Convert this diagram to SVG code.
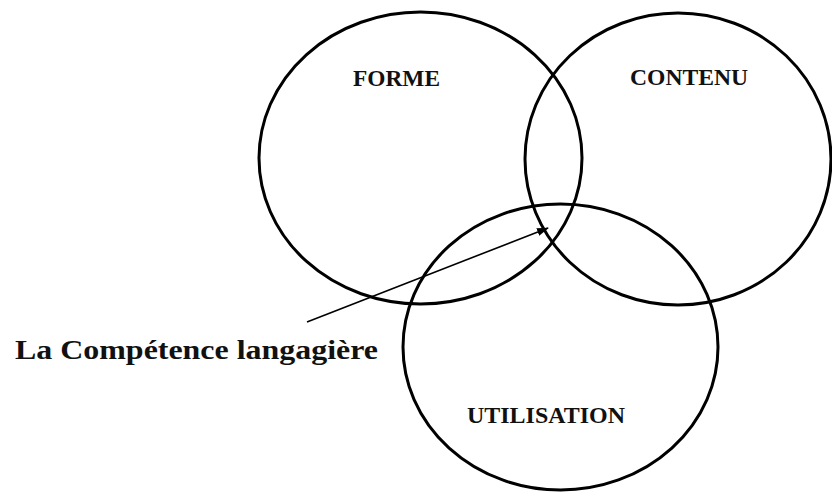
<svg xmlns="http://www.w3.org/2000/svg" width="832" height="497" viewBox="0 0 832 497">
<defs>
<style>
.c{fill:none;stroke:#000;stroke-width:3}
.t{font-family:"Liberation Serif","Times New Roman",serif;font-weight:bold;font-size:24px;fill:#111}
.l{font-family:"Liberation Serif","Times New Roman",serif;font-weight:bold;font-size:28px;fill:#111}
</style>
<marker id="ah" viewBox="0 0 12 10" refX="11" refY="5" markerWidth="12" markerHeight="10" orient="auto" markerUnits="userSpaceOnUse">
<path d="M0,1 L12,5 L0,9 Z" fill="#000"/>
</marker>
</defs>
<rect width="832" height="497" fill="#fff"/>
<g id="forme">
<ellipse class="c" cx="420.5" cy="158" rx="161.5" ry="146"/>
<text class="t" x="353" y="86" textLength="87" lengthAdjust="spacingAndGlyphs">FORME</text>
</g>
<g id="contenu">
<ellipse class="c" cx="678" cy="159" rx="153" ry="146"/>
<text class="t" x="630" y="85" textLength="118" lengthAdjust="spacingAndGlyphs">CONTENU</text>
</g>
<g id="utilisation">
<ellipse class="c" cx="560.5" cy="347" rx="157.5" ry="143"/>
<text class="t" x="467" y="423" textLength="158" lengthAdjust="spacingAndGlyphs">UTILISATION</text>
</g>
<g id="competence">
<text class="l" x="15" y="359" textLength="363" lengthAdjust="spacingAndGlyphs">La Compétence langagière</text>
</g>
<g id="connectors">
<line x1="307" y1="322" x2="548" y2="228" stroke="#000" stroke-width="1.6" marker-end="url(#ah)"/>
</g>
</svg>
